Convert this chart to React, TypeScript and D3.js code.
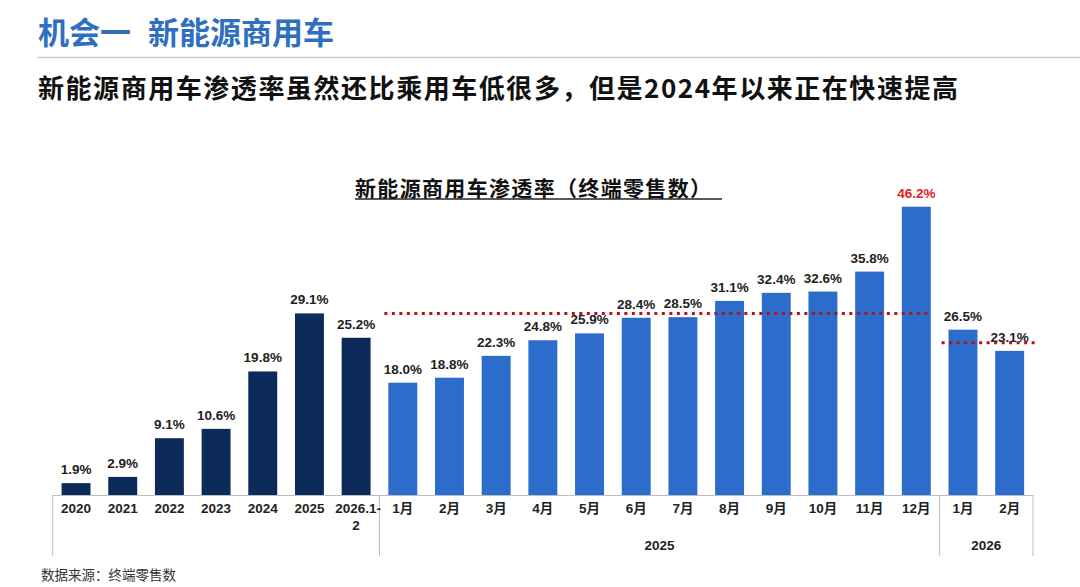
import React from "react";
import * as d3 from "d3";

const categories = ["2020","2021","2022","2023","2024","2025","2026.1-2","1月","2月","3月","4月","5月","6月","7月","8月","9月","10月","11月","12月","1月","2月"];
const values = [1.9,2.9,9.1,10.6,19.8,29.1,25.2,18.0,18.8,22.3,24.8,25.9,28.4,28.5,31.1,32.4,32.6,35.8,46.2,26.5,23.1];
const kinds = ["annual","annual","annual","annual","annual","annual","annual","m2025","m2025","m2025","m2025","m2025","m2025","m2025","m2025","m2025","m2025","m2025","m2025","m2026","m2026"];
const groupLabels = ["", "2025", "2026"];
const groupKinds = ["annual", "m2025", "m2026"];
const highlightIndex = 18;
const refLines = [
  { value: 29.1, from: 7, to: 18 },
  { value: 24.4, from: 19, to: 20 },
];

const W = 1080, H = 587;
const baseY = 495;
const CJK = "'Noto Sans CJK SC', 'Noto Sans', sans-serif";
const NUM = "'Liberation Sans', Arial, 'Noto Sans CJK SC', sans-serif";

export default function App() {
  const idx = categories.map((_, i) => String(i));
  const x = d3.scaleBand<string>().domain(idx).range([52.7, 1033]).paddingInner(0.38).paddingOuter(0.19);
  const y = d3.scaleLinear().domain([0, 50]).range([baseY, baseY - 312]);
  const bw = x.bandwidth();
  const step = x.step();
  const bandStart = (i: number) => (x(String(i)) as number) - step * 0.19;
  const bandEnd = (i: number) => (x(String(i)) as number) + bw + step * 0.19;

  const groups = groupKinds.map((k) => {
    const ids = kinds.map((kk, i) => (kk === k ? i : -1)).filter((i) => i >= 0);
    return { start: bandStart(ids[0]), end: bandEnd(ids[ids.length - 1]) };
  });
  const seps = [groups[0].start, groups[1].start, groups[2].start, groups[2].end];

  return (
    <svg width={W} height={H} style={{ position: "absolute", left: 0, top: 0, background: "#fff" }}>
      <text x={38} y={44} fontFamily={CJK} fontWeight={700} fontSize={31} fill="#2f6fc0">机会一</text>
      <text x={148} y={44} fontFamily={CJK} fontWeight={700} fontSize={31} fill="#2f6fc0">新能源商用车</text>
      <line x1={38} x2={1080} y1={57.5} y2={57.5} stroke="#c9c9c9" strokeWidth={1.5} />
      <text x={38} y={98} fontFamily={CJK} fontWeight={700} fontSize={26} fill="#111" textLength={920} lengthAdjust="spacing">
        新能源商用车渗透率虽然还比乘用车低很多，但是2024年以来正在快速提高
      </text>

      <text x={355} y={196} fontFamily={CJK} fontWeight={700} fontSize={21} fill="#111" textLength={356} lengthAdjust="spacing">
        新能源商用车渗透率（终端零售数）
      </text>
      <line x1={355} x2={722} y1={199} y2={199} stroke="#222" strokeWidth={1.5} />

      {values.map((v, i) => (
        <rect key={"b" + i} x={x(String(i))} y={y(v)} width={bw} height={baseY - y(v)}
          fill={kinds[i] === "annual" ? "#0c2b5b" : "#2c6dcb"} />
      ))}
      {values.map((v, i) => (
        <text key={"v" + i} x={(x(String(i)) as number) + bw / 2} y={y(v) - 9} textAnchor="middle"
          fontFamily={NUM} fontWeight={700} fontSize={13.5} fill={i === highlightIndex ? "#e02020" : "#222"}>
          {v.toFixed(1) + "%"}
        </text>
      ))}

      {refLines.map((r, k) => (
        <line key={"r" + k} x1={k === 0 ? (x(String(r.from)) as number) - 4 : bandStart(r.from) + 2}
          x2={k === 0 ? (x(String(r.to)) as number) + bw : bandEnd(r.to) + 4}
          y1={y(r.value)} y2={y(r.value)} stroke="#b3121c" strokeWidth={3} strokeDasharray="3 4.5" />
      ))}

      <line x1={groups[0].start} x2={groups[2].end} y1={baseY + 0.5} y2={baseY + 0.5} stroke="#bdbdbd" strokeWidth={1} />
      {seps.map((sx, k) => (
        <line key={"s" + k} x1={sx} x2={sx} y1={baseY} y2={556} stroke="#bdbdbd" strokeWidth={1} />
      ))}

      {categories.map((c, i) => {
        const cx = (x(String(i)) as number) + bw / 2;
        if (c === "2026.1-2") {
          return (
            <text key={"t" + i} textAnchor="middle" fontFamily={NUM} fontWeight={700} fontSize={13.5} fill="#222">
              <tspan x={cx + 2} y={513}>2026.1-</tspan>
              <tspan x={cx} y={530}>2</tspan>
            </text>
          );
        }
        return (
          <text key={"t" + i} x={cx} y={513} textAnchor="middle" fontFamily={NUM} fontWeight={700} fontSize={13.5} fill="#222">{c}</text>
        );
      })}
      {groupLabels.map((g, k) => g ? (
        <text key={"g" + k} x={(groups[k].start + groups[k].end) / 2} y={550} textAnchor="middle"
          fontFamily={NUM} fontWeight={700} fontSize={13.5} fill="#222">{g}</text>
      ) : null)}

      <text x={41} y={580} fontFamily={CJK} fontSize={13.5} fill="#333">数据来源：终端零售数</text>
    </svg>
  );
}
